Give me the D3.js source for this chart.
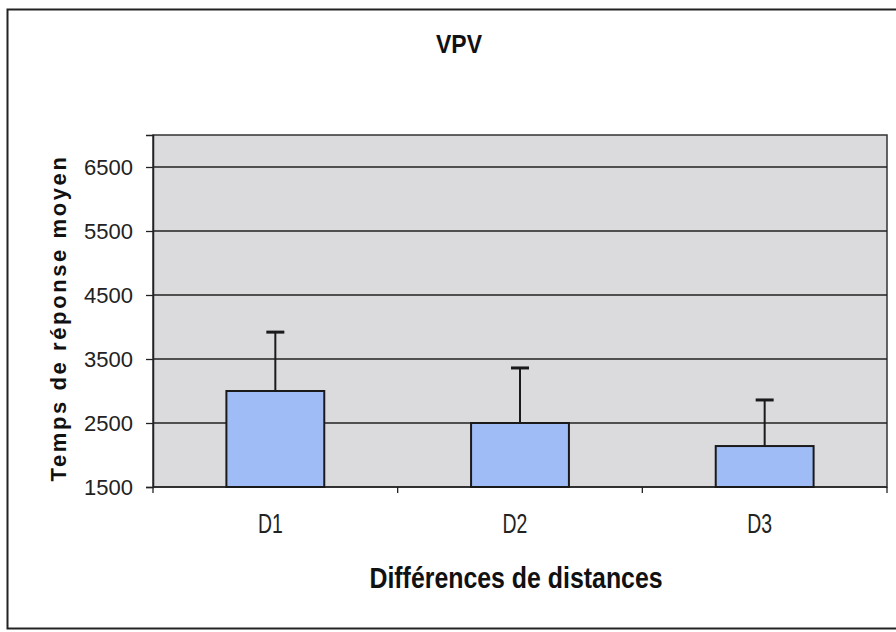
<!DOCTYPE html>
<html>
<head>
<meta charset="utf-8">
<script src="https://cdn.jsdelivr.net/npm/d3@7"></script>
<style>
  body { margin: 0; background: #fff; }
</style>
</head>
<body>
<div id="graphe"></div>
<script>
// donnees
const categories = ["D1", "D2", "D3"];
const moyennes = [3000, 2500, 2140];
const ecarts = [920, 860, 720];
const graduations = [1500, 2500, 3500, 4500, 5500, 6500];

const largeur = 896, hauteur = 632;
const marge = {gauche: 153, haut: 135, droite: 887, bas: 487};
const police = "Arial, 'Liberation Sans', sans-serif";

const svg = d3.select("#graphe").append("svg")
    .attr("width", largeur).attr("height", hauteur);

// cadre exterieur
svg.append("rect").attr("x", 7.5).attr("y", 9.5).attr("width", 900).attr("height", 619)
    .attr("fill", "white").attr("stroke", "#222").attr("stroke-width", 2);

const x = d3.scaleBand().domain(categories).range([marge.gauche, marge.droite]).paddingInner(0).paddingOuter(0);
const y = d3.scaleLinear().domain([1500, 7000]).range([marge.bas, marge.haut]);

// fond de la zone de trace
svg.append("rect").attr("x", marge.gauche).attr("y", marge.haut)
    .attr("width", marge.droite - marge.gauche).attr("height", marge.bas - marge.haut)
    .attr("fill", "#dbdbde").attr("stroke", "#333").attr("stroke-width", 1.5);

// lignes de quadrillage
svg.append("g").selectAll("line").data(graduations.slice(1)).join("line")
    .attr("x1", marge.gauche).attr("x2", marge.droite)
    .attr("y1", d => y(d)).attr("y2", d => y(d))
    .attr("stroke", "#222").attr("stroke-width", 1.3);

// axe y
const axeY = svg.append("g").attr("transform", "translate(" + marge.gauche + ",0)")
    .call(d3.axisLeft(y).tickValues(graduations).tickFormat(d3.format("d")).tickSize(7).tickPadding(13));
axeY.select(".domain").attr("stroke", "#222").attr("stroke-width", 1.5);
axeY.selectAll(".tick line").attr("stroke", "#222").attr("stroke-width", 1.3);
axeY.selectAll("text").attr("font-family", police)
    .attr("font-size", 22).attr("fill", "#222");

// axe x (graduations entre les categories)
const axeX = svg.append("g").attr("transform", "translate(0," + marge.bas + ")");
axeX.append("line").attr("x1", marge.gauche).attr("x2", marge.droite)
    .attr("stroke", "#222").attr("stroke-width", 1.5);
axeX.selectAll(".sep").data(categories.concat(["fin"])).join("line")
    .attr("x1", (d, i) => marge.gauche + i * x.bandwidth())
    .attr("x2", (d, i) => marge.gauche + i * x.bandwidth())
    .attr("y1", 0).attr("y2", 6).attr("stroke", "#222").attr("stroke-width", 1.3);
axeX.selectAll("text").data(categories).join("text")
    .attr("transform", d => "translate(" + (x(d) + x.bandwidth() / 2 - 5) + ",46) scale(0.72,1)")
    .attr("text-anchor", "middle")
    .attr("font-family", police)
    .attr("font-size", 27).attr("fill", "#222")
    .text(d => d);

// barres
const largeurBarre = x.bandwidth() * 0.4;
svg.append("g").selectAll("rect").data(categories).join("rect")
    .attr("x", d => x(d) + x.bandwidth() / 2 - largeurBarre / 2)
    .attr("y", (d, i) => y(moyennes[i]))
    .attr("width", largeurBarre)
    .attr("height", (d, i) => y(1500) - y(moyennes[i]))
    .attr("fill", "#a0bcf6").attr("stroke", "#1a1a1a").attr("stroke-width", 2);

// barres d'erreur
const erreurs = svg.append("g");
categories.forEach((c, i) => {
    let cx = x(c) + x.bandwidth() / 2;
    erreurs.append("line").attr("x1", cx).attr("x2", cx)
        .attr("y1", y(moyennes[i])).attr("y2", y(moyennes[i] + ecarts[i]))
        .attr("stroke", "#1a1a1a").attr("stroke-width", 2);
    erreurs.append("line").attr("x1", cx - 9).attr("x2", cx + 9)
        .attr("y1", y(moyennes[i] + ecarts[i])).attr("y2", y(moyennes[i] + ecarts[i]))
        .attr("stroke", "#1a1a1a").attr("stroke-width", 3);
});

// titres
svg.append("text").attr("transform", "translate(459,53) scale(0.92,1)").attr("text-anchor", "middle")
    .attr("font-family", police)
    .attr("font-weight", "bold").attr("font-size", 25).attr("fill", "#111")
    .text("VPV");

svg.append("text").attr("transform", "translate(516,588) scale(0.83,1)").attr("text-anchor", "middle")
    .attr("font-family", police)
    .attr("font-weight", "bold").attr("font-size", 30).attr("fill", "#111")
    .text("Différences de distances");

svg.append("text").attr("transform", "translate(66,318) rotate(-90)")
    .attr("text-anchor", "middle")
    .attr("font-family", police)
    .attr("font-weight", "bold").attr("font-size", 22).attr("letter-spacing", 2.6).attr("fill", "#111")
    .text("Temps de réponse moyen");
</script>
</body>
</html>
